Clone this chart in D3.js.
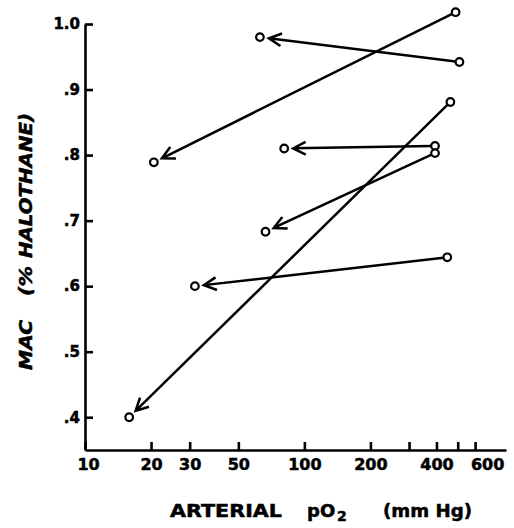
<!DOCTYPE html>
<html>
<head>
<meta charset="utf-8">
<script src="https://cdn.jsdelivr.net/npm/d3@7"></script>
<style>
  body { margin: 0; background: #fff; }
  text { font-family: "DejaVu Sans", sans-serif; font-weight: bold; fill: #000; stroke: #000; stroke-width: 0.5px; }
</style>
</head>
<body>
<div id="chart"></div>
<script>
// each pair: high pO2 reading -> arrow to the low pO2 reading
const highPO2 = [489, 509, 463, 394, 394, 448];
const highMAC = [1.018, 0.942, 0.881, 0.814, 0.803, 0.644];
const lowPO2 = [20.6, 62.7, 15.9, 80.9, 66.5, 31.7];
const lowMAC = [0.789, 0.98, 0.40, 0.81, 0.683, 0.60];

const xTicks = [10, 20, 30, 50, 100, 200, 300, 400, 500, 600];
const xTickLabels = ["10", "20", "30", "50", "100", "200", "", "400", "", "600"];
const yTicks = [0.4, 0.5, 0.6, 0.7, 0.8, 0.9, 1.0];
const yTickLabels = [".4", ".5", ".6", ".7", ".8", ".9", "1.0"];

const width = 514;
const height = 528;

const svg = d3
  .select("#chart")
  .append("svg")
  .attr("width", width)
  .attr("height", height);

const x = d3.scaleLog().domain([10, 830]).range([85, 506]);
const y = d3.scaleLinear().domain([0.35, 1.0]).range([450, 24]);

// axes (ticks point inward)
const xAxis = svg
  .append("g")
  .attr("transform", "translate(0,450)")
  .call(
    d3
      .axisBottom(x)
      .tickValues(xTicks)
      .tickFormat((d, i) => xTickLabels[i])
      .tickSizeInner(-8)
      .tickSizeOuter(0)
      .tickPadding(9)
  );
xAxis.selectAll("text").style("font-size", "16px").attr("dx", (d) => (d === 600 ? 12 : d === 10 ? 3 : 0));

const yAxis = svg
  .append("g")
  .attr("transform", "translate(85,0)")
  .call(
    d3
      .axisLeft(y)
      .tickValues(yTicks)
      .tickFormat((d, i) => yTickLabels[i])
      .tickSizeInner(-8)
      .tickSizeOuter(0)
      .tickPadding(5)
  );
yAxis.selectAll("text").style("font-size", "15px");

svg.selectAll(".domain, .tick line").attr("stroke", "#000").attr("stroke-width", 2.6);

// arrows
const pairs = highPO2.map((p, i) => ({
  x1: x(p),
  y1: y(highMAC[i]),
  x2: x(lowPO2[i]),
  y2: y(lowMAC[i]),
}));

const r = 3.8;
const arrowPath = (d) => {
  const dx = d.x1 - d.x2;
  const dy = d.y1 - d.y2;
  const len = Math.sqrt(dx * dx + dy * dy);
  const ux = dx / len;
  const uy = dy / len;
  const sx = d.x1 - ux * r;
  const sy = d.y1 - uy * r;
  const tx = d.x2 + ux * 9;
  const ty = d.y2 + uy * 9;
  const a = (27 * Math.PI) / 180;
  const hl = 14;
  const ax1 = tx + hl * (ux * Math.cos(a) - uy * Math.sin(a));
  const ay1 = ty + hl * (ux * Math.sin(a) + uy * Math.cos(a));
  const ax2 = tx + hl * (ux * Math.cos(a) + uy * Math.sin(a));
  const ay2 = ty + hl * (-ux * Math.sin(a) + uy * Math.cos(a));
  return `M${sx},${sy}L${tx},${ty}M${ax1},${ay1}L${tx},${ty}L${ax2},${ay2}`;
};

svg
  .selectAll(".arrow")
  .data(pairs)
  .enter()
  .append("path")
  .attr("class", "arrow")
  .attr("d", arrowPath)
  .attr("fill", "none")
  .attr("stroke", "#000")
  .attr("stroke-width", 2.5);

// open circles
const points = highPO2
  .map((p, i) => ({ p, m: highMAC[i] }))
  .concat(lowPO2.map((p, i) => ({ p, m: lowMAC[i] })));

svg
  .selectAll(".pt")
  .data(points)
  .enter()
  .append("circle")
  .attr("class", "pt")
  .attr("cx", (d) => x(d.p))
  .attr("cy", (d) => y(d.m))
  .attr("r", r)
  .attr("fill", "#fff")
  .attr("stroke", "#000")
  .attr("stroke-width", 2.2);

// x label
const xl = svg.append("g").style("font-size", "18px");
xl.append("text").attr("x", 170).attr("y", 517).attr("textLength", 112).attr("lengthAdjust", "spacingAndGlyphs").text("ARTERIAL");
xl.append("text").attr("x", 307).attr("y", 517).text("pO");
xl.append("text").attr("x", 337).attr("y", 521).style("font-size", "14px").text("2");
xl.append("text").attr("x", 383).attr("y", 517).attr("textLength", 89).attr("lengthAdjust", "spacingAndGlyphs").text("(mm Hg)");

// y label
const yl = svg
  .append("g")
  .attr("transform", "translate(32,0) rotate(-90)")
  .style("font-size", "18px")
  .style("font-style", "italic");
yl.append("text").attr("x", -370).attr("y", 0).attr("textLength", 50).attr("lengthAdjust", "spacingAndGlyphs").text("MAC");
yl.append("text").attr("x", -296).attr("y", 0).attr("textLength", 30).attr("lengthAdjust", "spacingAndGlyphs").text("(%");
yl.append("text").attr("x", -258).attr("y", 0).attr("textLength", 145).attr("lengthAdjust", "spacingAndGlyphs").text("HALOTHANE)");
</script>
</body>
</html>
